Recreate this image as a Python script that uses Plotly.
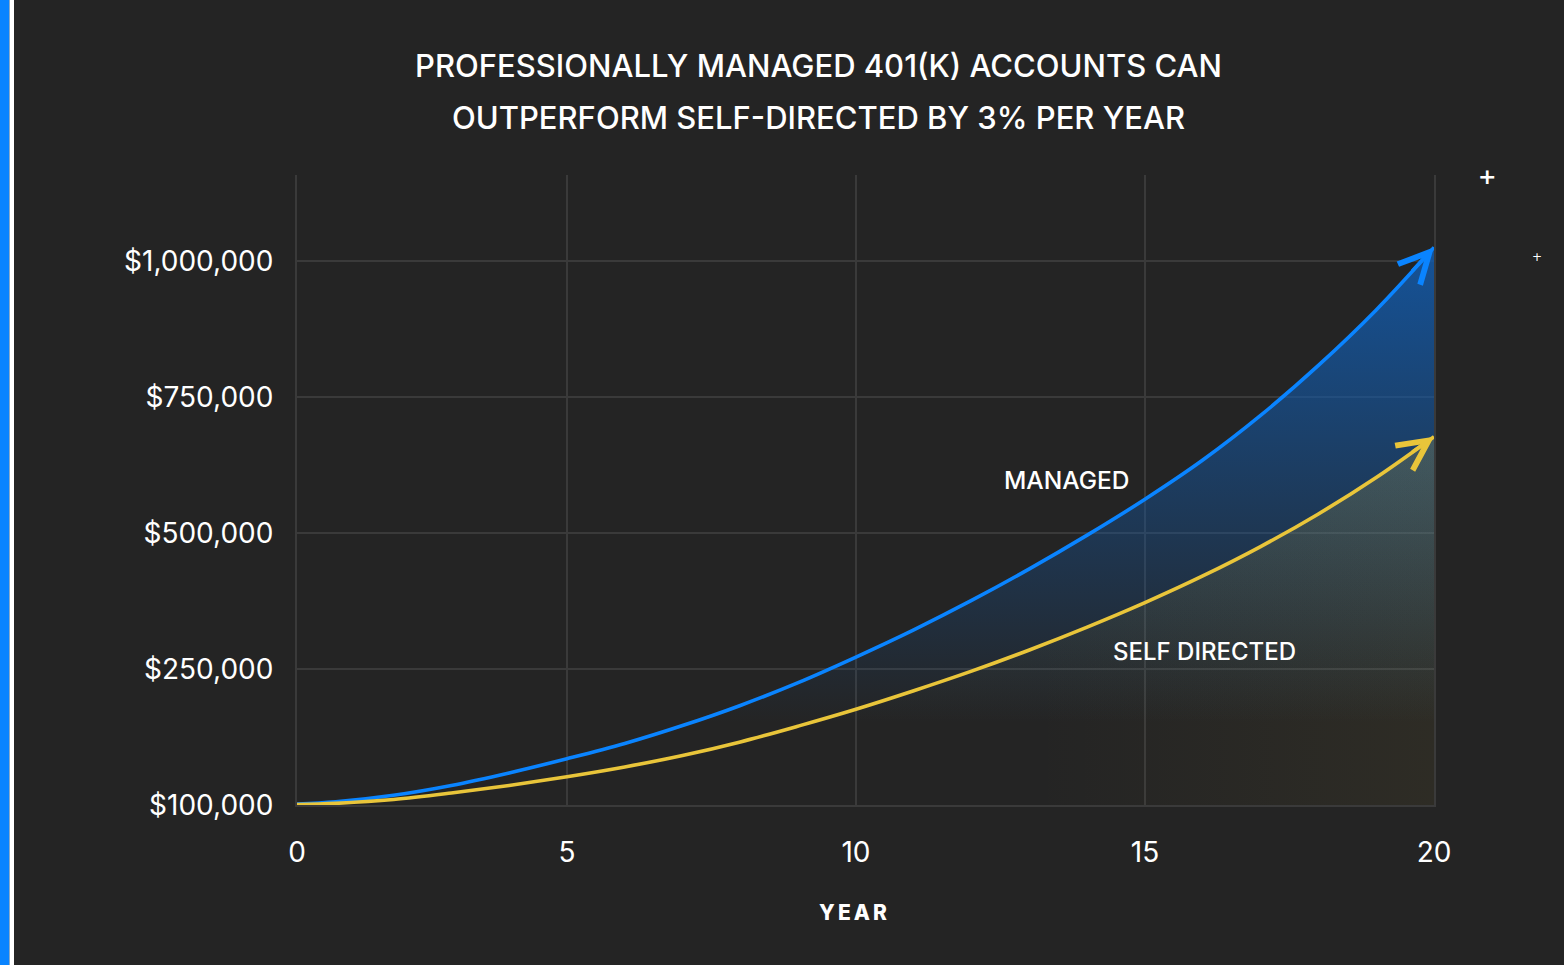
import plotly.graph_objects as go

# ---------------- data ----------------
YEARS = list(range(0, 21))
# values in the chart's plotting units (baseline of the chart = 0)
MANAGED = [0, 6000, 18000, 36000, 59000, 85000, 113000, 146000, 183000, 225000,
           272000, 322000, 376000, 434000, 496000, 562000, 634000, 716000, 808000,
           910000, 1025000]
SELF_DIRECTED = [0, 3000, 10000, 22000, 36000, 52000, 70000, 91000, 116000, 145000,
                 176000, 210000, 246000, 285000, 327000, 372000, 421000, 475000,
                 535000, 602000, 677000]

X_START = 0.33          # the axis begins here; its first tick is labelled "0"
X_TICK_VALS = [X_START, 5, 10, 15, 20]
X_TICK_TEXT = ["0", "5", "10", "15", "20"]
Y_TICK_VALS = [0, 250000, 500000, 750000, 1000000]
Y_TICK_TEXT = ["$100,000", "$250,000", "$500,000", "$750,000", "$1,000,000"]

TITLE_LINES = ["PROFESSIONALLY MANAGED 401(K) ACCOUNTS CAN",
               "OUTPERFORM SELF-DIRECTED BY 3% PER YEAR"]
X_TITLE = "YEAR"
SERIES_LABELS = ["MANAGED", "SELF DIRECTED"]

# ---------------- style ----------------
BG = "#242424"
GRID = "#3a3a3a"
BLUE = "#0a84ff"
YELLOW = "#e9c53a"
FONT = "Inter"

W, H = 1564, 965
L, R, T, B = 297, 130, 175, 160
PW, PH = W - L - R, H - T - B
Y_MAX = 1158000


def px(x):
    return (x - L) / PW


def py(y):
    return (H - B - y) / PH


fig = go.Figure()

# blue area (vertical gradient, strongest at top)
fig.add_trace(go.Scatter(
    x=YEARS, y=MANAGED, mode="lines", line=dict(width=0, shape="spline", color=BLUE),
    fill="tozeroy",
    fillgradient=dict(type="vertical", start=150000, stop=1030000,
                      colorscale=[[0, "rgba(18,92,175,0)"], [1, "rgba(18,92,175,0.84)"]]),
    hoverinfo="skip", showlegend=False))

# yellow tint under the self-directed line (two gradients -> diagonal fade)
fig.add_trace(go.Scatter(
    x=YEARS, y=SELF_DIRECTED, mode="lines", line=dict(width=0, shape="spline", color=YELLOW),
    fill="tozeroy",
    fillgradient=dict(type="vertical", start=150000, stop=680000,
                      colorscale=[[0, "rgba(233,197,58,0)"], [1, "rgba(233,197,58,0.15)"]]),
    hoverinfo="skip", showlegend=False))
fig.add_trace(go.Scatter(
    x=YEARS, y=SELF_DIRECTED, mode="lines", line=dict(width=0, shape="spline", color=YELLOW),
    fill="tozeroy",
    fillgradient=dict(type="horizontal", start=13, stop=20,
                      colorscale=[[0, "rgba(233,197,58,0)"], [1, "rgba(233,197,58,0.05)"]]),
    hoverinfo="skip", showlegend=False))

# lines
fig.add_trace(go.Scatter(x=YEARS, y=MANAGED, mode="lines",
                         line=dict(color=BLUE, width=3.6, shape="spline"),
                         name=SERIES_LABELS[0], showlegend=False))
fig.add_trace(go.Scatter(x=YEARS, y=SELF_DIRECTED, mode="lines",
                         line=dict(color=YELLOW, width=3.6, shape="spline"),
                         name=SERIES_LABELS[1], showlegend=False))

annotations = []
# arrow heads at the ends of the lines
for vals, col in ((MANAGED, BLUE), (SELF_DIRECTED, YELLOW)):
    annotations.append(dict(
        x=YEARS[-1], y=vals[-1], xref="x", yref="y",
        ax=YEARS[-2] + 0.6, ay=vals[-2] + 0.6 * (vals[-1] - vals[-2]), axref="x", ayref="y",
        text="", showarrow=True, arrowhead=5, arrowsize=1.65, arrowwidth=3.6,
        arrowcolor=col, standoff=0))

# title
for i, line in enumerate(TITLE_LINES):
    annotations.append(dict(
        text=line, x=px(818), y=py(66 + 51 * i), xref="paper", yref="paper",
        xanchor="center", yanchor="middle", showarrow=False,
        font=dict(family=FONT, size=31, color="white", weight=500)))

# series labels
annotations.append(dict(text=SERIES_LABELS[0], x=px(1067), y=py(480), xref="paper", yref="paper",
                        xanchor="center", yanchor="middle", showarrow=False,
                        font=dict(family=FONT, size=24.5, color="white", weight=500)))
annotations.append(dict(text=SERIES_LABELS[1], x=px(1204), y=py(651), xref="paper", yref="paper",
                        xanchor="center", yanchor="middle", showarrow=False,
                        font=dict(family=FONT, size=24, color="white", weight=500)))

# x-axis title
annotations.append(dict(text="\u2009".join(X_TITLE), x=px(853), y=py(912), xref="paper", yref="paper",
                        xanchor="center", yanchor="middle", showarrow=False,
                        font=dict(family=FONT, size=21, color="white", weight=800)))

# decorative plus marks
annotations.append(dict(text="<b>+</b>", x=px(1487), y=py(176), xref="paper", yref="paper",
                        xanchor="center", yanchor="middle", showarrow=False,
                        font=dict(family="DejaVu Sans", size=22, color="white")))
annotations.append(dict(text="+", x=px(1537), y=py(257), xref="paper", yref="paper",
                        xanchor="center", yanchor="middle", showarrow=False,
                        font=dict(family="DejaVu Sans", size=12, color="white")))

shapes = [
    dict(type="rect", xref="paper", yref="paper", x0=px(0), x1=px(9.5), y0=py(H), y1=py(0),
         fillcolor="#0a84ff", line=dict(width=0), layer="above"),
    dict(type="rect", xref="paper", yref="paper", x0=px(9.5), x1=px(14), y0=py(H), y1=py(0),
         fillcolor="#ffffff", line=dict(width=0), layer="above"),
]

fig.update_layout(
    width=W, height=H, autosize=False,
    margin=dict(l=L, r=R, t=T, b=B),
    paper_bgcolor=BG, plot_bgcolor=BG,
    font=dict(family=FONT, color="white"),
    annotations=annotations, shapes=shapes,
    xaxis=dict(range=[X_START, 20], tickvals=X_TICK_VALS, ticktext=X_TICK_TEXT,
               showgrid=True, gridcolor=GRID, gridwidth=2,
               zeroline=False, showline=True, linecolor=GRID, linewidth=2,
               ticks="", ticklabelstandoff=21,
               tickfont=dict(family=FONT, size=28, color="white")),
    yaxis=dict(range=[0, Y_MAX], tickvals=Y_TICK_VALS, ticktext=Y_TICK_TEXT,
               showgrid=True, gridcolor=GRID, gridwidth=2, zeroline=False,
               showline=True, mirror=True, linecolor=GRID, linewidth=2,
               ticks="", ticklabelstandoff=16,
               tickfont=dict(family=FONT, size=28, color="white")),
)

fig.write_html(
    "out.html",
    config={"displayModeBar": False},
    post_script="document.body.style.margin='0';document.body.style.background='%s';" % BG,
)
